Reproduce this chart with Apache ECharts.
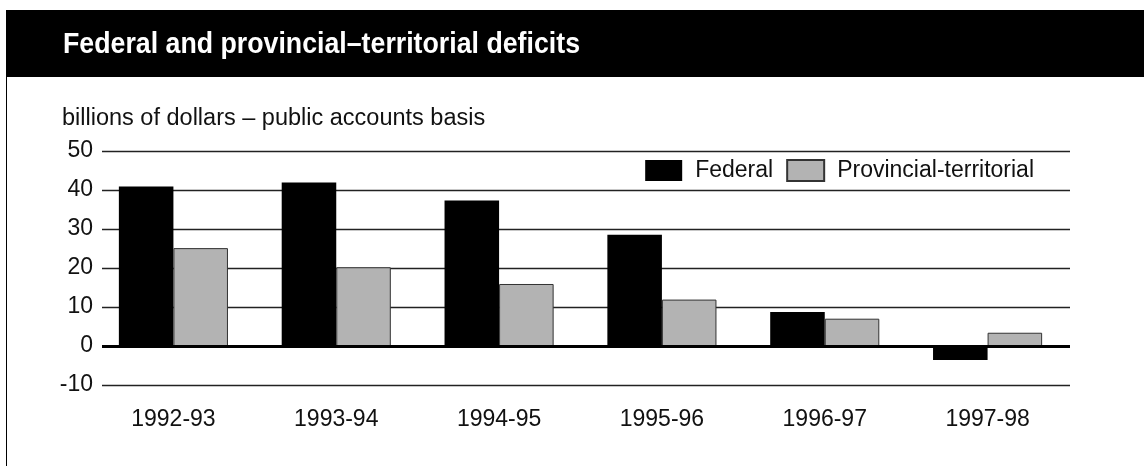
<!DOCTYPE html>
<html><head><meta charset="utf-8">
<script src="https://cdn.jsdelivr.net/npm/echarts@6/dist/echarts.min.js"></script>
<style>html,body{margin:0;padding:0;background:#fff}#c{width:1144px;height:466px}</style>
</head><body><div id="c"></div>
<script>
const categories = ['1992-93','1993-94','1994-95','1995-96','1996-97','1997-98'];
const federal = [40.9, 41.9, 37.3, 28.5, 8.7, -3.6];
const provincial = [25.1, 20.2, 15.9, 11.9, 7.0, 3.4];
const seriesNames = ['Federal', 'Provincial-territorial'];
const titleText = 'Federal and provincial\u2013territorial deficits';
const unitText = 'billions of dollars \u2013 public accounts basis';
const yMin = -10, yMax = 50, yStep = 10;

const font = '"Liberation Sans", Arial, sans-serif';
const titleFont = 'bold 30px "Liberation Sans", Arial, sans-serif';
// condense the title horizontally to the reference's title width
function textWidth(text, f) {
  const ctx = document.createElement('canvas').getContext('2d');
  ctx.font = f;
  return ctx.measureText(text).width;
}
const titleScaleX = 517 / textWidth(titleText, titleFont);

const chart = echarts.init(document.getElementById('c'), null, {renderer:'canvas'});
const yAxisCommon = {type: 'value', min: yMin, max: yMax, interval: yStep};
chart.setOption({
  animation: false,
  graphic: [
    {type:'rect', left:6, top:10, shape:{width:1138, height:67}, style:{fill:'#000'}, z:0},
    {type:'line', shape:{x1:6.5, y1:77, x2:6.5, y2:466}, style:{stroke:'#000', lineWidth:1}},
    {type:'text', x:63, y:45, scaleX: titleScaleX, scaleY: 1,
      style:{text:titleText, fill:'#fff', verticalAlign:'middle', font:titleFont}},
    {type:'text', x:62, y:119, style:{text:unitText, fill:'#111', verticalAlign:'middle', font:'23.5px ' + font}}
  ],
  legend: {
    right: 110, top: 159, padding: 0, icon: 'rect',
    itemWidth: 37, itemHeight: 21, itemGap: 13,
    textStyle: {fontSize: 23, fontFamily: font, color: '#111', padding: [0,0,0,8]},
    data: seriesNames
  },
  grid: [
    {left: 102, right: 74, top: 151, bottom: 81},
    {left: 92, right: 75, top: 151, bottom: 81}
  ],
  xAxis: [
    {type: 'category', gridIndex: 0, show: false, data: categories},
    {type: 'category', gridIndex: 1, data: categories,
     axisLine: {show: false, onZero: false}, axisTick: {show: false},
     axisLabel: {fontSize: 23, fontFamily: font, color: '#111', margin: 23}}
  ],
  yAxis: [
    Object.assign({gridIndex: 0,
      axisLine: {show: false}, axisTick: {show: false},
      axisLabel: {fontSize: 23, fontFamily: font, color: '#111', margin: 9},
      splitLine: {lineStyle: {color: '#222', width: 1.3}}}, yAxisCommon),
    Object.assign({gridIndex: 1, show: false, splitLine: {show: false}}, yAxisCommon)
  ],
  series: [
    {name: seriesNames[0], type: 'bar', xAxisIndex: 1, yAxisIndex: 1, data: federal,
     barGap: '0%', barCategoryGap: '33%', itemStyle: {color: '#000'}},
    {name: seriesNames[1], type: 'bar', xAxisIndex: 1, yAxisIndex: 1, data: provincial,
     itemStyle: {color: '#b3b3b3', borderColor: '#333', borderWidth: 1}},
    {name: 'zero', type: 'line', xAxisIndex: 0, yAxisIndex: 0, data: [], z: 5,
     markLine: {silent: true, symbol: 'none', label: {show: false},
       lineStyle: {color: '#000', width: 3, type: 'solid'}, data: [{yAxis: 0}]}}
  ]
});
</script></body></html>
